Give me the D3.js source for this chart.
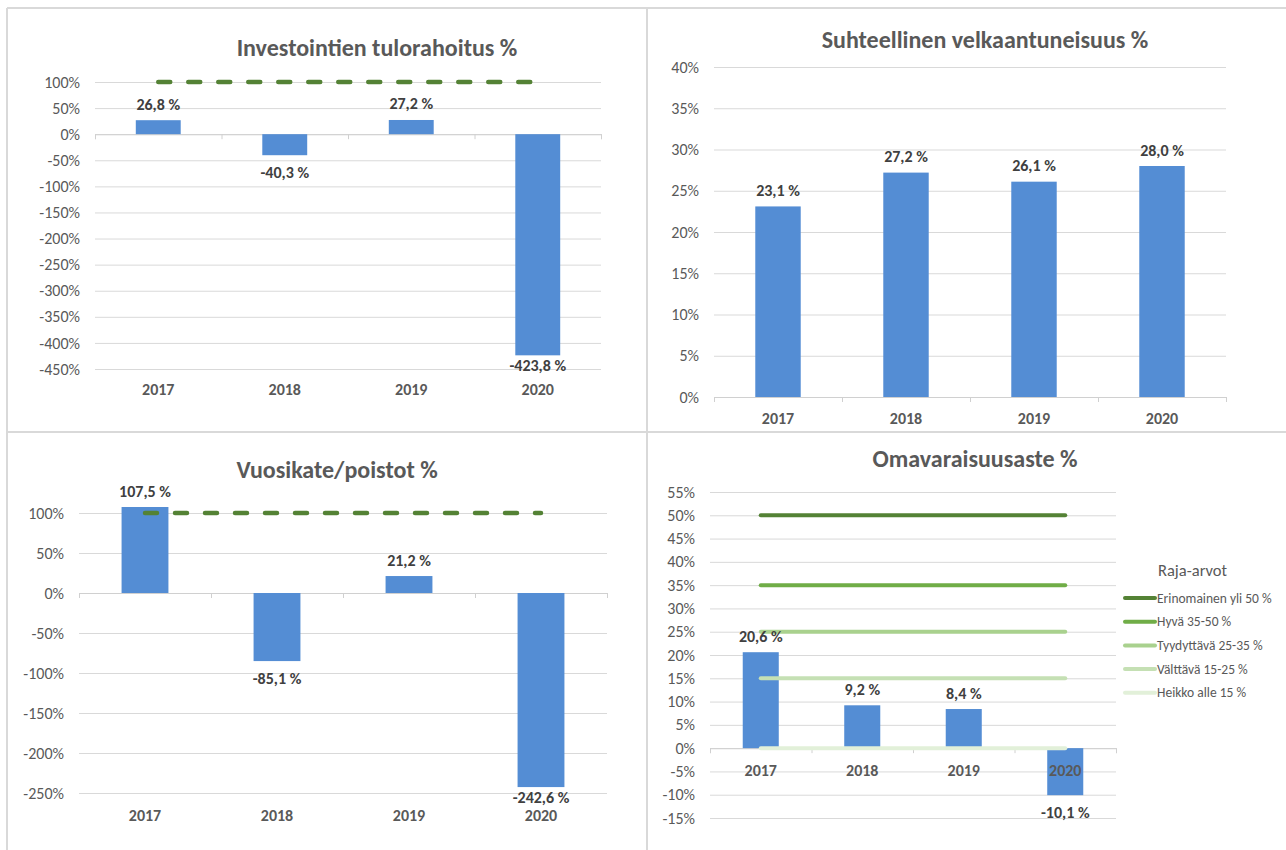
<!DOCTYPE html>
<html>
<head>
<meta charset="utf-8">
<script src="https://cdn.jsdelivr.net/npm/d3@7"></script>
<style>
  body { margin: 0; background: #fff; }
  svg text { font-family: Carlito, Calibri, Lato, sans-serif; }
</style>
</head>
<body>
<div id="chart"></div>
<script>
// data
var years = ["2017", "2018", "2019", "2020"];

var tulorahoitus = [26.8, -40.3, 27.2, -423.8];
var tulorahoitusTavoite = [100, 100, 100, 100];
var tulorahoitusTicks = [100, 50, 0, -50, -100, -150, -200, -250, -300, -350, -400, -450];

var velkaantuneisuus = [23.1, 27.2, 26.1, 28.0];
var velkaTicks = [40, 35, 30, 25, 20, 15, 10, 5, 0];

var vuosikate = [107.5, -85.1, 21.2, -242.6];
var vuosikateTavoite = [100, 100, 100, 100];
var vuosikateTicks = [100, 50, 0, -50, -100, -150, -200, -250];

var omavaraisuus = [20.6, 9.2, 8.4, -10.1];
var omaTicks = [55, 50, 45, 40, 35, 30, 25, 20, 15, 10, 5, 0, -5, -10, -15];

var rajaNimet = ["Erinomainen yli 50 %", "Hyvä 35-50 %", "Tyydyttävä 25-35 %", "Välttävä 15-25 %", "Heikko alle 15 %"];
var rajaArvot = [50, 35, 25, 15, 0];
var rajaVarit = ["#548235", "#70AD47", "#A9D18E", "#C5E0B4", "#E2F0D9"];

var barColor = "#548DD4";
var gridColor = "#D9D9D9";
var textColor = "#595959";
var labelColor = "#404040";

var svg = d3.select("#chart")
  .append("svg")
  .attr("width", 1286)
  .attr("height", 850);

// panel frames
var frame = svg.append("g").attr("stroke", gridColor).attr("stroke-width", 2);
frame.append("line").attr("x1", 7).attr("x2", 1286).attr("y1", 8).attr("y2", 8);
frame.append("line").attr("x1", 7).attr("x2", 1286).attr("y1", 432).attr("y2", 432);
frame.append("line").attr("x1", 7).attr("x2", 7).attr("y1", 8).attr("y2", 850);
frame.append("line").attr("x1", 647).attr("x2", 647).attr("y1", 8).attr("y2", 850);

function fmt(v) {
  return v.toFixed(1).replace(".", ",") + " %";
}

function drawPanel(cfg) {
  var g = svg.append("g");
  var ticks = cfg.ticks;

  var y = d3.scaleLinear()
    .domain([d3.max(ticks), d3.min(ticks)])
    .range([cfg.top, cfg.bottom]);

  var x = d3.scaleBand()
    .domain(years)
    .range([cfg.left, cfg.right])
    .paddingInner(0.645)
    .paddingOuter(0.3225);

  // title
  g.append("text")
    .attr("x", cfg.titleX)
    .attr("y", cfg.titleY)
    .attr("text-anchor", "middle")
    .attr("dominant-baseline", "central")
    .attr("font-size", 24)
    .attr("font-weight", "bold")
    .attr("fill", textColor)
    .text(cfg.title);

  // gridlines + y labels
  var leftAxis = d3.axisLeft(y)
    .tickValues(ticks)
    .tickSize(-(cfg.right - cfg.left))
    .tickPadding(15)
    .tickFormat(d => d + "%");

  var yAxis = g.append("g")
    .attr("transform", `translate(${cfg.left}, 0)`)
    .call(leftAxis);
  yAxis.select(".domain").remove();
  yAxis.selectAll("line").attr("stroke", gridColor);
  yAxis.selectAll("text")
    .attr("font-size", 16)
    .attr("fill", textColor)
    .attr("font-family", null);

  // category axis on zero line
  var edge = d3.scaleLinear().domain([0, years.length]).range([cfg.left, cfg.right]);
  var bottomAxis = d3.axisBottom(edge)
    .tickValues(d3.range(years.length + 1))
    .tickSize(5)
    .tickFormat("");
  g.append("g")
    .attr("transform", `translate(0, ${y(0)})`)
    .call(bottomAxis)
    .call(a => a.selectAll("line, path").attr("stroke", "#D0D0D0"));

  // bars
  g.selectAll("rect.bar")
    .data(cfg.values)
    .enter()
    .append("rect")
    .attr("class", "bar")
    .attr("x", (d, i) => x(years[i]))
    .attr("width", x.bandwidth())
    .attr("y", d => y(Math.max(0, d)))
    .attr("height", d => Math.abs(y(d) - y(0)))
    .attr("fill", barColor);

  // target line (dashed)
  if (cfg.target) {
    var line = d3.line()
      .x((d, i) => x(years[i]) + x.bandwidth() / 2)
      .y(d => y(d));
    g.append("path")
      .datum(cfg.target)
      .attr("d", line)
      .attr("fill", "none")
      .attr("stroke", "#548235")
      .attr("stroke-width", 4.5)
      .attr("stroke-linecap", "round")
      .attr("stroke-dasharray", "12,18");
  }

  // threshold lines
  if (cfg.limits) {
    cfg.limits.forEach(function(v, k) {
      var lineData = years.map(() => v);
      var l = d3.line()
        .x((d, i) => x(years[i]) + x.bandwidth() / 2)
        .y(d => y(d));
      g.append("path")
        .datum(lineData)
        .attr("d", l)
        .attr("fill", "none")
        .attr("stroke", rajaVarit[k])
        .attr("stroke-width", 4)
        .attr("stroke-linecap", "round");
    });
  }

  // category labels
  g.selectAll("text.cat")
    .data(years)
    .enter()
    .append("text")
    .attr("class", "cat")
    .attr("x", d => x(d) + x.bandwidth() / 2)
    .attr("y", cfg.catY)
    .attr("text-anchor", "middle")
    .attr("dominant-baseline", "central")
    .attr("font-size", 16)
    .attr("font-weight", "bold")
    .attr("fill", textColor)
    .text(d => d);

  // data labels
  g.selectAll("text.val")
    .data(cfg.values)
    .enter()
    .append("text")
    .attr("class", "val")
    .attr("x", (d, i) => x(years[i]) + x.bandwidth() / 2)
    .attr("y", d => d >= 0 ? y(d) - 16 : Math.min(y(d) + 17, cfg.labelMax || 9999))
    .attr("text-anchor", "middle")
    .attr("dominant-baseline", "central")
    .attr("font-size", 16)
    .attr("font-weight", "bold")
    .attr("fill", labelColor)
    .text(d => fmt(d));
}

drawPanel({
  title: "Investointien tulorahoitus %",
  titleX: 377, titleY: 47,
  left: 95, right: 601, top: 82, bottom: 369,
  ticks: tulorahoitusTicks,
  values: tulorahoitus,
  target: tulorahoitusTavoite,
  catY: 389, labelMax: 365
});

drawPanel({
  title: "Suhteellinen velkaantuneisuus %",
  titleX: 985, titleY: 39,
  left: 714, right: 1226, top: 67, bottom: 397,
  ticks: velkaTicks,
  values: velkaantuneisuus,
  catY: 418
});

drawPanel({
  title: "Vuosikate/poistot %",
  titleX: 337, titleY: 469,
  left: 79, right: 607, top: 513, bottom: 793,
  ticks: vuosikateTicks,
  values: vuosikate,
  target: vuosikateTavoite,
  catY: 815, labelMax: 797
});

drawPanel({
  title: "Omavaraisuusaste %",
  titleX: 975, titleY: 458,
  left: 710, right: 1116, top: 492, bottom: 818,
  ticks: omaTicks,
  values: omavaraisuus,
  limits: rajaArvot,
  catY: 770
});

// legend
var legend = svg.append("g");
legend.append("text")
  .attr("x", 1158)
  .attr("y", 570)
  .attr("dominant-baseline", "central")
  .attr("font-size", 16.5)
  .attr("fill", textColor)
  .text("Raja-arvot");

var items = legend.selectAll("g.item")
  .data(rajaNimet)
  .enter()
  .append("g")
  .attr("class", "item")
  .attr("transform", (d, i) => `translate(0, ${598 + i * 23.7})`);

items.append("line")
  .attr("x1", 1125).attr("x2", 1155)
  .attr("y1", 0).attr("y2", 0)
  .attr("stroke", (d, i) => rajaVarit[i])
  .attr("stroke-width", 4)
  .attr("stroke-linecap", "round");

items.append("text")
  .attr("x", 1157)
  .attr("y", 0)
  .attr("dominant-baseline", "central")
  .attr("font-size", 13.5)
  .attr("fill", textColor)
  .text(d => d);
</script>
</body>
</html>
